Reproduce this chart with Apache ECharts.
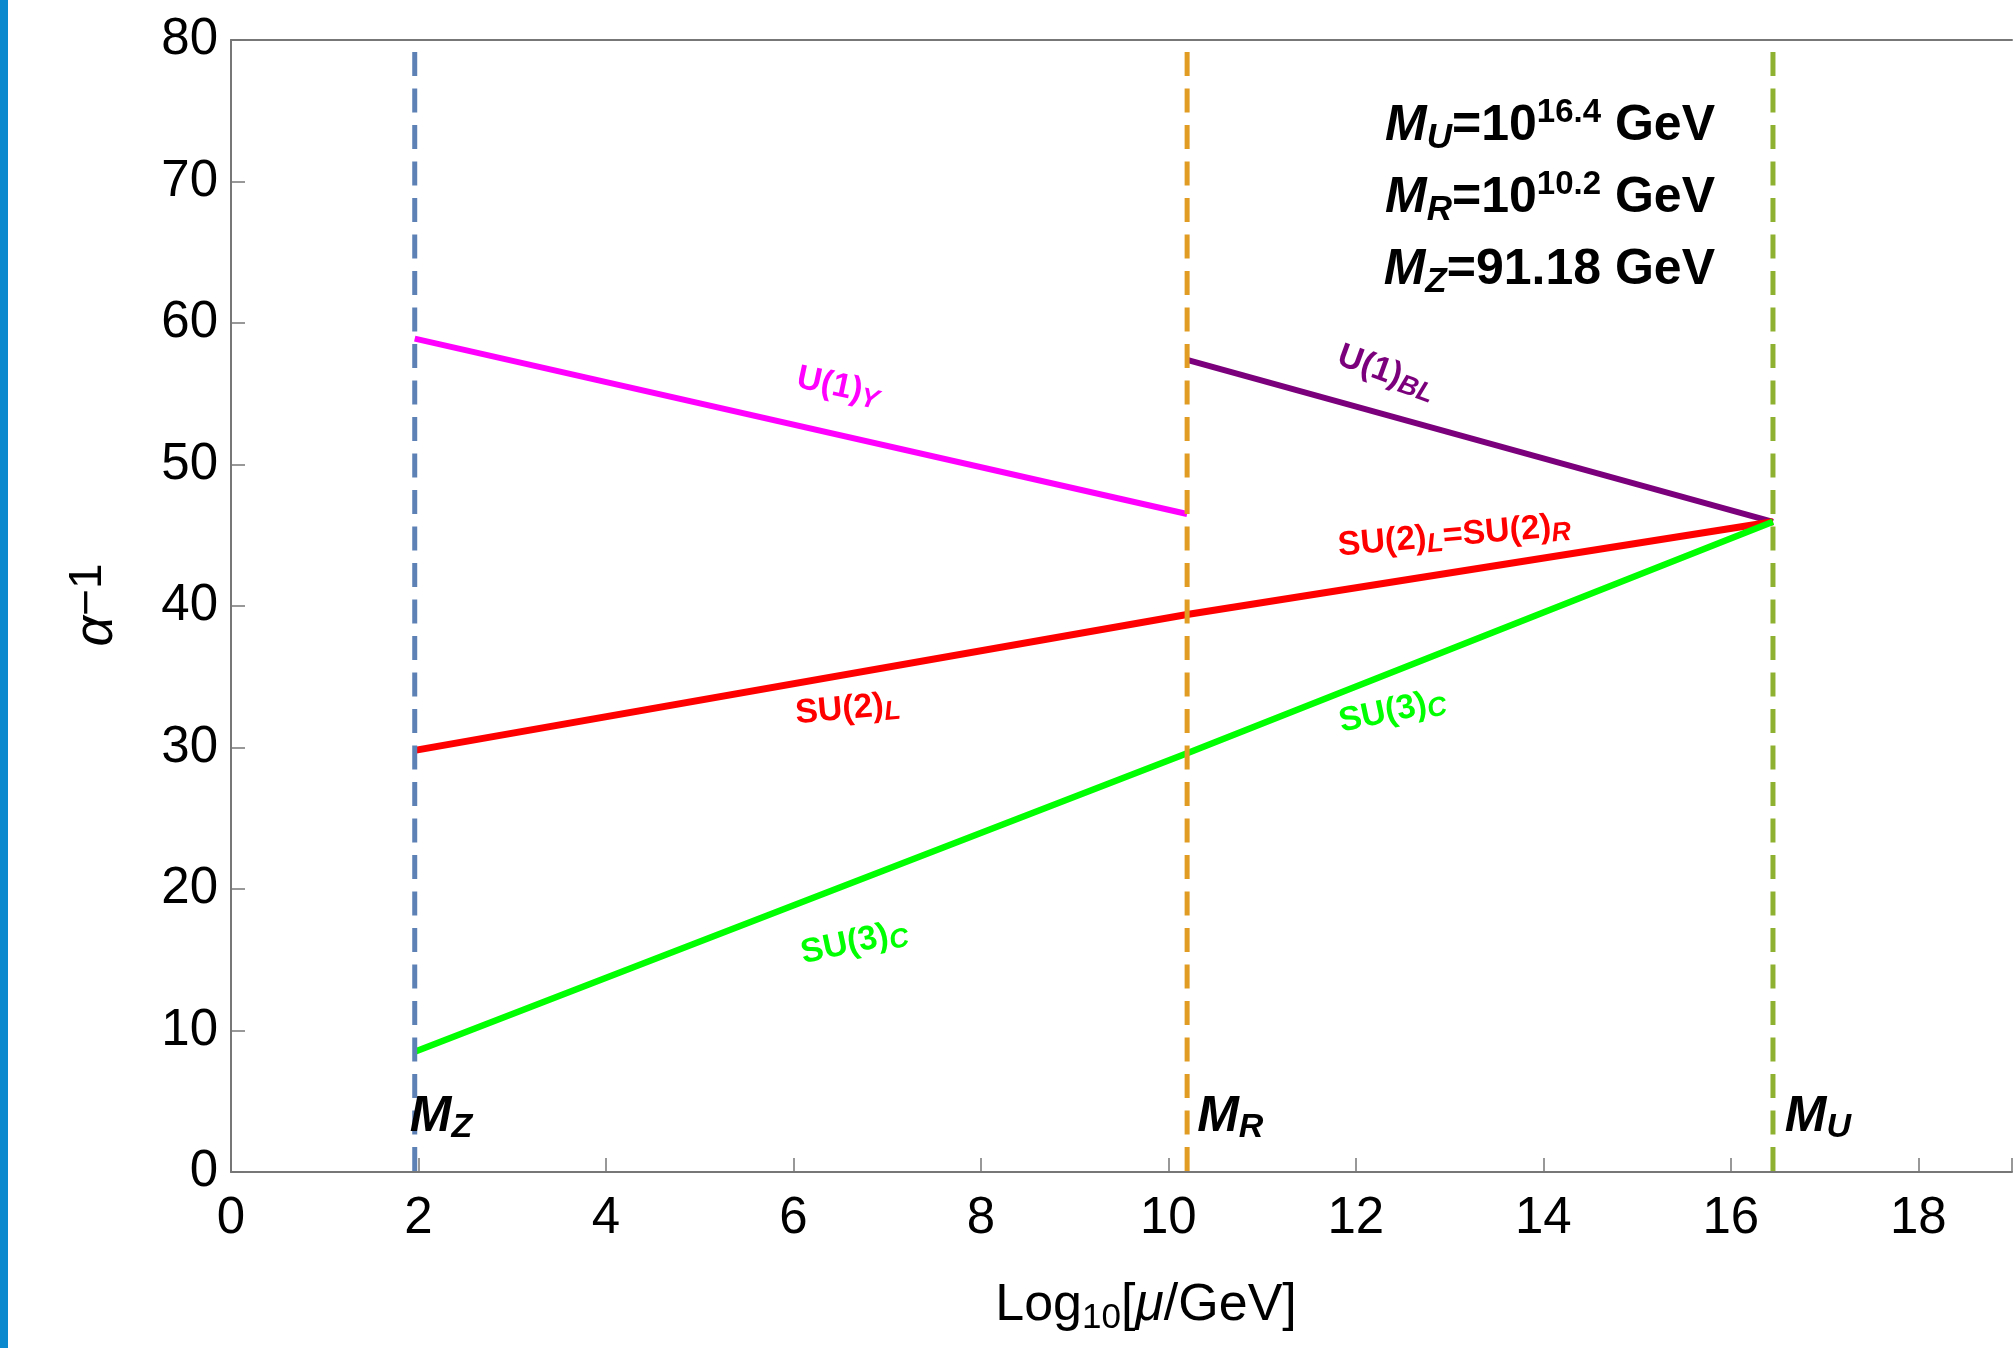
<!DOCTYPE html>
<html><head><meta charset="utf-8">
<script src="https://cdn.jsdelivr.net/npm/echarts@6/dist/echarts.min.js"></script>
<style>html,body{margin:0;padding:0;background:#fff}#c{width:2015px;height:1348px}</style>
</head><body><div id="c"></div>
<script>
// ---- data ----
const MZ = 1.96, MR = 10.2, MU = 16.45;      // log10 of scales
const dashTop = 79.15;                        // top of the vertical scale markers
const xTickValues = [0, 2, 4, 6, 8, 10, 12, 14, 16, 18];
const yTickValues = [0, 10, 20, 30, 40, 50, 60, 70, 80];
const u1Y   = [[MZ, 58.9], [MR, 46.5]];
const u1BL  = [[MR, 57.4], [MU, 45.95]];
const su2L  = [[MZ, 29.8], [MR, 39.4]];
const su2LR = [[MR, 39.4], [MU, 45.95]];
const su3C  = [[MZ, 8.5], [MR, 29.6], [MU, 45.95]];
const scaleX = [MZ, MR, MU];
// curve label anchors (data coordinates)
const curveLabelText = ['{m|U(1)}{s|Y}', '{m|U(1)}{s|BL}', '{m|SU(2)}{s|L}{m|=SU(2)}{s|R}', '{m|SU(2)}{s|L}', '{m|SU(3)}{s|C}', '{m|SU(3)}{s|C}'];
const curveLabelX = [6.48, 12.33, 13.05, 6.58, 6.65, 12.39];
const curveLabelY = [55.5, 56.5, 44.95, 32.7, 16.2, 32.55];
// scale marker label anchors (data coordinates)
const scaleLabelText = ['{m|M}{s|Z}', '{m|M}{s|R}', '{m|M}{s|U}'];
const scaleLabelX = [2.24, 10.66, 16.93];
const scaleLabelY = [3.9, 3.9, 3.9];

// ---- styles ----
const FONT = '"Liberation Sans", Arial, Helvetica, sans-serif';
const curveColors = ['#FF00FF', '#7B007B', '#FF0000', '#FF0000', '#00FF00', '#00FF00'];
const curveAngles = [-12, -20, 5, 5, 12, 12];
const dashColors = ['#5E81B5', '#E19C24', '#8FB131'];
const axisGrey = '#777777';

const chart = echarts.init(document.getElementById('c'), null, {renderer: 'canvas'});

function lineSeries(data, color, width, z) {
  return {type: 'line', data: data, showSymbol: false, symbol: 'none', silent: true, z: z,
    lineStyle: {color: color, width: width, cap: 'butt'}, animation: false};
}

const series = [
  lineSeries(u1Y, '#FF00FF', 6, 3),
  lineSeries(u1BL, '#7B007B', 6, 3),
  lineSeries(su2L, '#FF0000', 7, 3),
  lineSeries(su2LR, '#FF0000', 7, 3),
  lineSeries(su3C, '#00FF00', 6.5, 3)
];
scaleX.forEach((x, i) => {
  series.push({type: 'line', data: [[x, dashTop], [x, 0]], showSymbol: false, symbol: 'none', silent: true, z: 5,
    lineStyle: {color: dashColors[i], width: 5, type: [24, 12.5], cap: 'butt'}, animation: false});
});
series.push({
  type: 'scatter', symbolSize: 0, silent: true, z: 6, animation: false, itemStyle: {opacity: 1},
  data: curveLabelX.map((x, i) => ({
    value: [x, curveLabelY[i]],
    label: {
      show: true, position: 'inside', rotate: curveAngles[i], formatter: curveLabelText[i],
      align: 'center', verticalAlign: 'middle', opacity: 1, color: curveColors[i],
      rich: {
        m: {fontSize: 34, fontWeight: 'bold', fontFamily: FONT, color: curveColors[i], lineHeight: 40},
        s: {fontSize: 27, fontWeight: 'bold', fontStyle: 'italic', fontFamily: FONT, color: curveColors[i], lineHeight: 26, verticalAlign: 'bottom'}
      }
    }
  }))
});
series.push({
  type: 'scatter', symbolSize: 0, silent: true, z: 6, animation: false, itemStyle: {opacity: 1},
  data: scaleLabelX.map((x, i) => ({
    value: [x, scaleLabelY[i]],
    label: {
      show: true, position: 'inside', formatter: scaleLabelText[i],
      align: 'center', verticalAlign: 'middle', opacity: 1, color: '#000',
      rich: {
        m: {fontSize: 50, fontWeight: 'bold', fontStyle: 'italic', fontFamily: FONT, color: '#000', lineHeight: 56},
        s: {fontSize: 34, fontWeight: 'bold', fontStyle: 'italic', fontFamily: FONT, color: '#000', lineHeight: 34, verticalAlign: 'bottom'}
      }
    }
  }))
});

const annRich = {
  mi: {fontSize: 50, fontWeight: 'bold', fontStyle: 'italic', fontFamily: FONT, fill: '#000', lineHeight: 60},
  sub: {fontSize: 35, fontWeight: 'bold', fontStyle: 'italic', fontFamily: FONT, fill: '#000', lineHeight: 34, verticalAlign: 'bottom'},
  b: {fontSize: 50, fontWeight: 'bold', fontFamily: FONT, fill: '#000', lineHeight: 60},
  sup: {fontSize: 33, fontWeight: 'bold', fontFamily: FONT, fill: '#000', lineHeight: 32, verticalAlign: 'top'}
};
const annLines = [
  '{mi|M}{sub|U}{b|=10}{sup|16.4}{b| GeV}',
  '{mi|M}{sub|R}{b|=10}{sup|10.2}{b| GeV}',
  '{mi|M}{sub|Z}{b|=91.18 GeV}'
];

const option = {
  backgroundColor: '#fff',
  animation: false,
  grid: {left: 231, right: 0, top: 40, bottom: 176, containLabel: false},
  xAxis: [{
    type: 'value', min: 0, max: 19, interval: 2, position: 'bottom',
    axisLine: {show: true, onZero: false, lineStyle: {color: axisGrey, width: 2}},
    axisTick: {show: true, inside: true, length: 14, lineStyle: {color: axisGrey, width: 1.5}},
    axisLabel: {show: true, fontSize: 51, fontFamily: FONT, color: '#000', margin: 21,
      formatter: v => (xTickValues.indexOf(v) >= 0 ? String(v) : '')},
    splitLine: {show: false}
  }, {
    type: 'value', min: 0, max: 19, position: 'top',
    axisLine: {show: true, onZero: false, lineStyle: {color: axisGrey, width: 2}},
    axisTick: {show: false}, axisLabel: {show: false}, splitLine: {show: false}
  }],
  yAxis: {
    type: 'value', min: 0, max: 80, interval: 10,
    axisLine: {show: true, onZero: false, lineStyle: {color: axisGrey, width: 2}},
    axisTick: {show: true, inside: true, length: 14, lineStyle: {color: axisGrey, width: 1.5}},
    axisLabel: {show: true, fontSize: 51, fontFamily: FONT, color: '#000', margin: 13,
      formatter: v => (yTickValues.indexOf(v) >= 0 ? String(v) : '')},
    splitLine: {show: false}
  },
  series: series,
  graphic: [
    {type: 'rect', left: 0, top: 0, z: 100, shape: {x: 0, y: 0, width: 8, height: 1348}, style: {fill: '#0B89CF'}},
    {type: 'text', x: 1715, y: 96, z: 100, style: {text: annLines[0], align: 'right', verticalAlign: 'top', rich: annRich, fill: '#000'}},
    {type: 'text', x: 1715, y: 168, z: 100, style: {text: annLines[1], align: 'right', verticalAlign: 'top', rich: annRich, fill: '#000'}},
    {type: 'text', x: 1715, y: 240, z: 100, style: {text: annLines[2], align: 'right', verticalAlign: 'top', rich: annRich, fill: '#000'}},
    {type: 'text', x: 1146, y: 1306, z: 100, style: {
      text: '{n|Log}{s|10}{n|[}{i|μ}{n|/GeV]}', align: 'center', verticalAlign: 'middle', fill: '#000',
      rich: {
        n: {fontSize: 52, fontFamily: FONT, fill: '#000', lineHeight: 60},
        i: {fontSize: 52, fontFamily: FONT, fontStyle: 'italic', fill: '#000', lineHeight: 60},
        s: {fontSize: 35, fontFamily: FONT, fill: '#000', lineHeight: 36, verticalAlign: 'bottom'}
      }}},
    {type: 'text', x: 97, y: 605, rotation: Math.PI / 2, z: 100, style: {
      text: '{a|α}{p|−1}', align: 'center', verticalAlign: 'middle', fill: '#000',
      rich: {
        a: {fontSize: 54, fontFamily: FONT, fontStyle: 'italic', fill: '#000', lineHeight: 64},
        p: {fontSize: 46, fontFamily: FONT, fill: '#000', lineHeight: 44, verticalAlign: 'top'}
      }}}
  ]
};
chart.setOption(option);
</script>
</body></html>
